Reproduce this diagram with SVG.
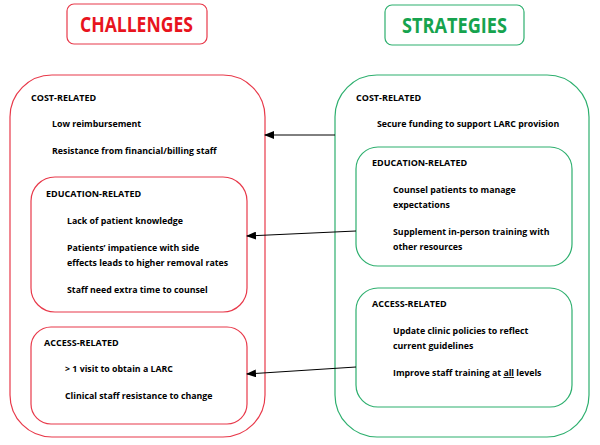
<svg xmlns="http://www.w3.org/2000/svg" width="600" height="445" viewBox="0 0 600 445">
<style>
.r{fill:none;stroke:#E8394A;stroke-width:1.2}
.g{fill:none;stroke:#2DAF6E;stroke-width:1.2}
text{font-family:"Open Sans","Liberation Sans",sans-serif;font-weight:bold;fill:#000}
.h{font-size:9px}
.t{font-size:8.8px}
.title{font-size:22px}
.tr{fill:#E8141E}
.tg{fill:#16A34E}
.c{stroke:#000;stroke-width:1;fill:none;marker-end:url(#ah)}
</style>
<defs>
<marker id="ah" markerWidth="10" markerHeight="8" refX="9" refY="4" orient="auto" markerUnits="userSpaceOnUse">
<path d="M0,0 L10,4 L0,8 Z" fill="#000"/>
</marker>
</defs>
<rect width="600" height="445" fill="#fff"/>
<g id="challenges-title">
<rect class="r" x="67" y="4" width="140" height="40" rx="7"/>
<text class="title tr" x="80" y="32" textLength="113" lengthAdjust="spacingAndGlyphs">CHALLENGES</text>
</g>
<g id="strategies-title">
<rect class="g" x="385" y="5" width="139" height="40" rx="7"/>
<text class="title tg" x="402" y="33" textLength="105" lengthAdjust="spacingAndGlyphs">STRATEGIES</text>
</g>
<g id="challenges">
<rect class="r" x="10" y="75" width="255" height="362" rx="42"/>
<text class="h" x="31" y="101">COST-RELATED</text>
<text class="t" x="52" y="127">Low reimbursement</text>
<text class="t" x="52" y="154">Resistance from financial/billing staff</text>
</g>
<g id="challenges-education">
<rect class="r" x="31" y="177" width="216" height="135" rx="24"/>
<text class="h" x="46" y="197">EDUCATION-RELATED</text>
<text class="t" x="67" y="224">Lack of patient knowledge</text>
<text class="t" x="67" y="251">Patients’ impatience with side</text>
<text class="t" x="67" y="266">effects leads to higher removal rates</text>
<text class="t" x="67" y="293">Staff need extra time to counsel</text>
</g>
<g id="challenges-access">
<rect class="r" x="31" y="327" width="216" height="97" rx="20"/>
<text class="h" x="44" y="346">ACCESS-RELATED</text>
<text class="t" x="65" y="372">&gt; 1 visit to obtain a LARC</text>
<text class="t" x="65" y="399">Clinical staff resistance to change</text>
</g>
<g id="strategies">
<rect class="g" x="335" y="75" width="254" height="362" rx="42"/>
<text class="h" x="356" y="101">COST-RELATED</text>
<text class="t" x="377" y="127">Secure funding to support LARC provision</text>
</g>
<g id="strategies-education">
<rect class="g" x="356" y="147" width="216" height="119" rx="22"/>
<text class="h" x="372" y="166">EDUCATION-RELATED</text>
<text class="t" x="393" y="193">Counsel patients to manage</text>
<text class="t" x="393" y="208">expectations</text>
<text class="t" x="393" y="235">Supplement in-person training with</text>
<text class="t" x="393" y="250">other resources</text>
</g>
<g id="strategies-access">
<rect class="g" x="356" y="288" width="216" height="119" rx="22"/>
<text class="h" x="372" y="307">ACCESS-RELATED</text>
<text class="t" x="393" y="334">Update clinic policies to reflect</text>
<text class="t" x="393" y="349">current guidelines</text>
<text class="t" x="393" y="376">Improve staff training at <tspan text-decoration="underline">all</tspan> levels</text>
</g>
<g id="connectors">
<line class="c" x1="335" y1="135" x2="265" y2="135"/>
<line class="c" x1="356" y1="231" x2="247" y2="236"/>
<line class="c" x1="356" y1="367" x2="247" y2="374"/>
</g>
</svg>
